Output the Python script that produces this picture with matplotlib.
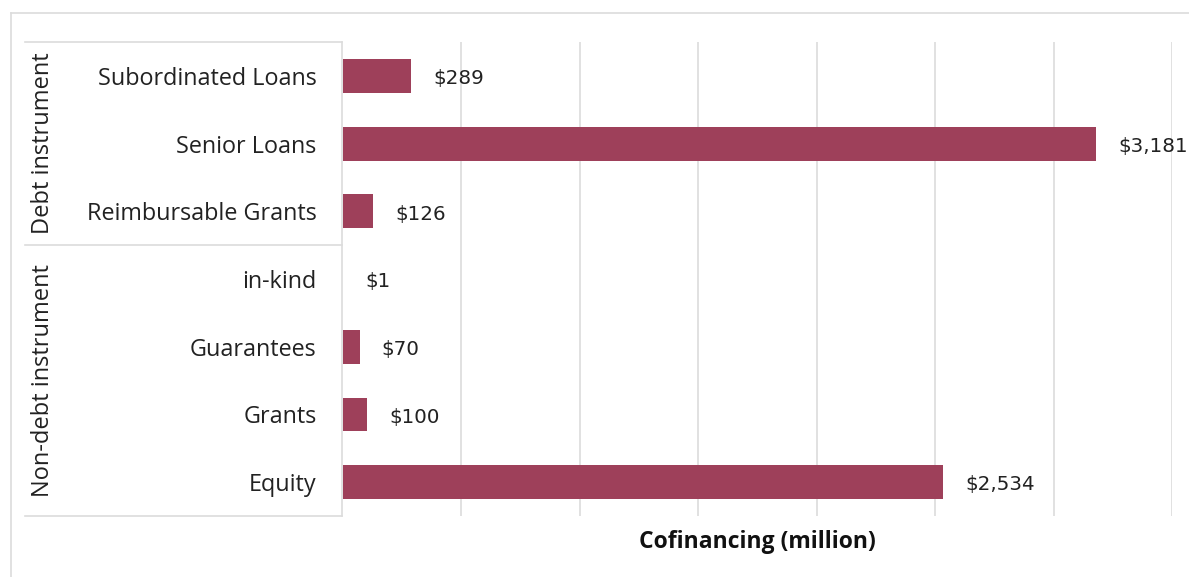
import matplotlib
matplotlib.use("Agg")
import matplotlib.pyplot as plt
from matplotlib.lines import Line2D

categories = ["Subordinated Loans", "Senior Loans", "Reimbursable Grants",
              "in-kind", "Guarantees", "Grants", "Equity"]
values = [289, 3181, 126, 1, 70, 100, 2534]
groups = ["Debt instrument", "Non-debt instrument"]
group_sizes = [3, 4]

bar_color = "#9E405A"
line_color = "#dcdcdc"
plt.rcParams['font.family'] = ['Open Sans', 'DejaVu Sans']

W, H = 1189, 577
fig = plt.figure(figsize=(W / 100, H / 100), dpi=100)

# axes area in pixels
x0, x1, y0, y1 = 343, 1172, 42, 516
ax = fig.add_axes([x0 / W, 1 - y1 / H, (x1 - x0) / W, (y1 - y0) / H])

ypos = list(range(len(categories)))
ax.barh(ypos, values, height=0.5, color=bar_color)
ax.set_ylim(len(categories) - 0.5, -0.5)
ax.set_xlim(0, 3500)
ax.set_xticks(range(500, 3501, 500))
ax.xaxis.grid(True, color=line_color, linewidth=1.2)
ax.set_axisbelow(True)
ax.tick_params(axis="x", length=0, labelbottom=False)
ax.set_yticks(ypos)
ax.set_yticklabels(categories, fontsize=16.8, color="#222222")
ax.tick_params(axis="y", length=0, pad=19)
for s in ax.spines.values():
    s.set_visible(False)

for i, v in enumerate(values):
    ax.annotate(f"${v:,}", xy=(v, i), xytext=(16, -2), textcoords="offset points",
                va="center", ha="left", fontsize=14.3, color="#222222",
                family="DejaVu Sans")

ax.set_xlabel("Cofinancing (million)", fontsize=16.5, fontweight="bold",
              color="#111111", labelpad=10)

# row header box
def fline(xs, ys):
    fig.add_artist(Line2D([x / W for x in xs], [1 - y / H for y in ys],
                          color=line_color, linewidth=1.2))

fline([25, 342], [y0, y0])
fline([25, 342], [y1, y1])
fline([342, 342], [y0, y1])
row_h = (y1 - y0) / len(categories)
start = 0
for g, n in zip(groups, group_sizes):
    top = y0 + start * row_h
    bot = y0 + (start + n) * row_h
    if start > 0:
        fline([25, 342], [top, top])
    fig.text(43 / W, 1 - (top + bot) / 2 / H, g, rotation=90, ha="center",
             va="center", fontsize=17, color="#222222")
    start += n

# outer frame
fline([11, 11], [13, H])
fline([11, W], [13, 13])

fig.savefig("out.png", dpi=100)
